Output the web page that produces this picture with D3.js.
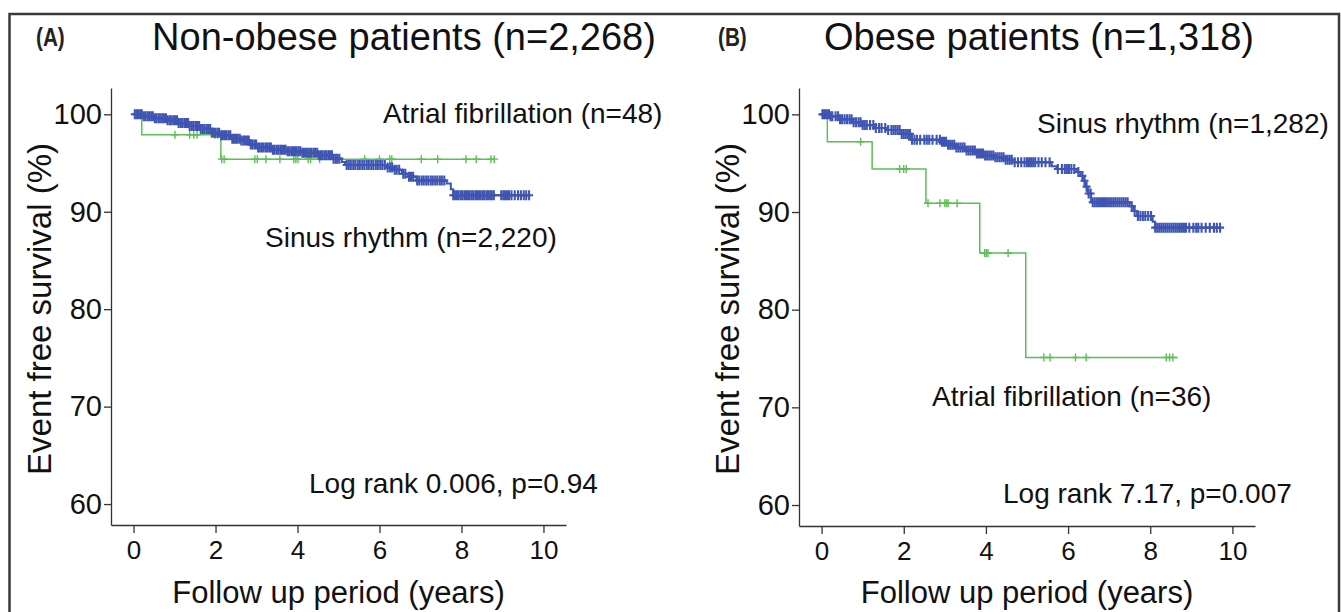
<!DOCTYPE html>
<html>
<head>
<meta charset="utf-8">
<script src="https://cdn.jsdelivr.net/npm/d3@7"></script>
<style>
    html, body { margin: 0; padding: 0; background: #fff; }
    svg { display: block; font-family: "Liberation Sans", Arial, sans-serif; }
</style>
</head>
<body>
<div id="chart"></div>
<script>
// ---- data ----
const xTicks = [0, 2, 4, 6, 8, 10];
const yTicks = [60, 70, 80, 90, 100];

// (A) non-obese, sinus rhythm
const aSinusTime = [0, 0.22, 0.48, 0.8, 1.08, 1.35, 1.62, 1.9, 2.14, 2.38, 2.6, 2.82, 3.0, 3.36, 3.74, 4.1, 4.5, 4.86, 5.08, 5.16, 6.18, 6.34, 6.55, 6.7, 6.9, 7.64, 7.74, 7.8];
const aSinusSurv = [100, 99.8, 99.6, 99.4, 99.1, 98.8, 98.5, 98.1, 97.85, 97.5, 97.3, 96.9, 96.6, 96.35, 96.2, 96.05, 95.8, 95.45, 95.1, 94.8, 94.55, 94.3, 93.9, 93.6, 93.2, 92.9, 92.3, 91.7];
const aSinusEnd = 9.65;
const aSinusCensor = [
    0.03, 0.07, 0.11, 0.16, 0.2, 0.25, 0.29, 0.34, 0.38, 0.43, 0.47, 0.52, 0.56, 0.61, 0.65, 0.7, 0.74, 0.79, 0.83, 0.88, 0.92, 0.97, 1.01, 1.06, 1.1, 1.15, 1.19, 1.24, 1.28, 1.33, 1.37, 1.42, 1.46, 1.51, 1.55, 1.6, 1.64, 1.69, 1.73, 1.78, 1.82, 1.87, 1.91, 1.96, 2.0,
    2.05, 2.09, 2.14, 2.18, 2.23, 2.27, 2.32, 2.36, 2.41, 2.45, 2.5, 2.54, 2.59, 2.63, 2.68, 2.72, 2.77, 2.81, 2.86, 2.9, 2.95, 2.99, 3.04, 3.08, 3.13, 3.17, 3.22, 3.26, 3.31, 3.35, 3.4, 3.44, 3.49, 3.53, 3.58, 3.62, 3.67, 3.71, 3.76, 3.8, 3.85, 3.89, 3.94, 3.98,
    4.03, 4.07, 4.12, 4.16, 4.21, 4.25, 4.3, 4.34, 4.39, 4.43, 4.48, 4.52, 4.57, 4.61, 4.66, 4.7, 4.75, 4.79, 4.84, 4.88, 4.93, 4.97, 5.02, 5.2, 5.25, 5.3, 5.36, 5.41, 5.47, 5.52, 5.58, 5.63, 5.69, 5.74, 5.8, 5.85, 5.91, 5.96, 6.02, 6.07, 6.13, 6.2, 6.26, 6.31,
    6.37, 6.42, 6.48, 6.58, 6.63, 6.72, 6.77, 6.82, 6.92, 6.97, 7.03, 7.08, 7.14, 7.19, 7.25, 7.3, 7.36, 7.41, 7.47, 7.52, 7.58, 7.8, 7.84, 7.89, 7.93, 7.98, 8.02, 8.07, 8.11, 8.16, 8.2, 8.25, 8.29, 8.34, 8.38, 8.43, 8.47, 8.52, 8.56, 8.61, 8.65, 8.7, 8.74, 8.79,
    8.97, 9.02, 9.06, 9.11, 9.16, 9.22, 9.3, 9.38, 9.45, 9.52, 9.58, 9.65
];

// (A) non-obese, atrial fibrillation
const aAfTime = [0, 0.2, 2.13];
const aAfSurv = [100, 97.9, 95.4];
const aAfEnd = 8.8;
const aAfCensor = [1.01, 1.37, 1.47, 1.55, 1.99, 2.05, 2.15, 2.21, 2.96, 3.02, 3.23, 3.57, 3.91, 3.96, 4.01, 4.26, 4.32, 4.54, 5.64, 6.0, 6.25, 6.3, 7.02, 7.42, 8.11, 8.36, 8.72, 8.8];

// (B) obese, sinus rhythm
const bSinusTime = [0, 0.2, 0.45, 0.75, 1.0, 1.3, 1.6, 1.95, 2.2, 2.9, 3.05, 3.25, 3.5, 3.75, 3.95, 4.2, 4.45, 4.65, 5.6, 5.72, 6.2, 6.3, 6.36, 6.42, 6.48, 6.56, 7.5, 7.6, 7.68, 8.06, 8.12];
const bSinusSurv = [100, 99.8, 99.5, 99.2, 98.9, 98.6, 98.4, 98.0, 97.4, 97.2, 96.9, 96.6, 96.3, 96.0, 95.8, 95.6, 95.35, 95.1, 94.7, 94.4, 94.1, 93.7, 93.2, 92.6, 91.9, 91.0, 90.6, 90.1, 89.6, 89.0, 88.4];
const bSinusEnd = 9.7;
const bSinusCensor = [
    0.02, 0.06, 0.1, 0.14, 0.18, 0.22, 0.26, 0.34, 0.4, 0.45, 0.5, 0.56, 0.62, 0.68, 0.73, 0.78, 0.84, 0.9, 0.95, 1.0, 1.05, 1.1,
    1.18, 1.26, 1.32, 1.4, 1.46, 1.55, 1.62, 1.7, 1.75, 1.8, 1.85, 1.9, 1.95, 2.0, 2.05, 2.1, 2.15, 2.2, 2.26, 2.32, 2.4, 2.5, 2.56, 2.62, 2.7, 2.8,
    2.88, 2.93, 2.98, 3.03, 3.08, 3.13, 3.18, 3.23, 3.28, 3.33, 3.38, 3.43, 3.48, 3.53, 3.58, 3.63, 3.68, 3.73, 3.78, 3.83, 3.88, 3.93, 3.98, 4.03, 4.08, 4.13, 4.18, 4.23, 4.28, 4.33, 4.38, 4.43, 4.48, 4.53, 4.58, 4.63,
    4.7, 4.78, 4.86, 4.94, 5.0, 5.05, 5.1, 5.15, 5.2, 5.28, 5.36, 5.45, 5.55, 5.75, 5.85, 5.92, 5.97, 6.02, 6.08, 6.15, 6.25, 6.35, 6.4, 6.45, 6.5, 6.55,
    6.6, 6.65, 6.7, 6.75, 6.8, 6.85, 6.9, 6.95, 7.0, 7.05, 7.1, 7.15, 7.2, 7.25, 7.3, 7.35, 7.4, 7.45, 7.55, 7.62, 7.7, 7.76, 7.82, 7.88, 7.95, 8.02,
    8.12, 8.17, 8.22, 8.27, 8.32, 8.37, 8.42, 8.47, 8.52, 8.57, 8.62, 8.67, 8.72, 8.77, 8.82, 8.87, 8.95, 9.05, 9.12, 9.17, 9.25, 9.35, 9.45, 9.55, 9.62, 9.7
];

// (B) obese, atrial fibrillation
const bAfTime = [0, 0.14, 1.23, 2.54, 3.85, 4.97];
const bAfSurv = [100, 97.2, 94.4, 90.9, 85.8, 75.1];
const bAfEnd = 8.67;
const bAfCensor = [0.95, 1.9, 2.0, 2.06, 2.59, 2.88, 3.0, 3.04, 3.08, 3.3, 3.97, 4.01, 4.05, 4.54, 5.41, 5.56, 6.18, 6.44, 8.39, 8.47, 8.55];

const panelLetters = ['(A)', '(B)'];
const panelTitles = ['Non-obese patients (n=2,268)', 'Obese patients (n=1,318)'];
const sinusLabels = ['Sinus rhythm (n=2,220)', 'Sinus rhythm (n=1,282)'];
const afLabels = ['Atrial fibrillation (n=48)', 'Atrial fibrillation (n=36)'];
const logRankLabels = ['Log rank 0.006, p=0.94', 'Log rank 7.17, p=0.007'];
const xTitle = 'Follow up period (years)';
const yTitle = 'Event free survival (%)';

const blue = '#3f55b3';
const green = '#5cbf55';
const axisColor = '#333';

const W = 1341, H = 612;

const svg = d3.select('#chart')
    .append('svg')
    .attr('width', W)
    .attr('height', H);

// outer frame (bottom edge is cut off in the original)
svg.append('rect')
    .attr('x', 9.5)
    .attr('y', 14)
    .attr('width', 1329.5)
    .attr('height', 640)
    .attr('fill', 'none')
    .attr('stroke', '#3a3a3a')
    .attr('stroke-width', 2.5);

// survival value at time t from step arrays
function survAt(times, surv, t) {
    let s = surv[0];
    for (let i = 0; i < times.length; i++) {
        if (times[i] <= t) s = surv[i];
    }
    return s;
}

function drawPanel(props) {
    const x = d3.scaleLinear().domain([-0.55, 10.55]).range([props.left, props.right]);
    const y = d3.scaleLinear().domain([57.85, 102.7]).range([props.bottom, 88]);
    const g = svg.append('g');

    // panel letter + title
    g.append('text')
        .attr('transform', 'translate(' + props.letterX + ',46) scale(0.9,1.1)')
        .attr('font-size', 23)
        .attr('font-weight', 'bold')
        .attr('fill', '#222')
        .text(props.letter);
    g.append('text')
        .attr('x', props.titleX)
        .attr('y', 50)
        .attr('text-anchor', 'middle')
        .attr('font-size', 38)
        .attr('fill', '#111')
        .text(props.title);

    // axes
    const yAxis = g.append('g')
        .attr('transform', 'translate(' + props.left + ',0)')
        .call(d3.axisLeft(y).tickValues(yTicks).tickSize(7).tickSizeOuter(0).tickPadding(2));
    yAxis.selectAll('text').attr('font-size', 29).attr('fill', '#111').attr('font-family', null);

    const xAxis = g.append('g')
        .attr('transform', 'translate(0,' + props.bottom + ')')
        .call(d3.axisBottom(x).tickValues(xTicks).tickSize(8).tickSizeOuter(0).tickPadding(8));
    xAxis.selectAll('text').attr('font-size', 26).attr('fill', '#111').attr('font-family', null);

    g.selectAll('.domain, .tick line')
        .attr('stroke', axisColor)
        .attr('stroke-width', 1.3);

    // axis titles
    g.append('text')
        .attr('x', (x(0) + x(10)) / 2)
        .attr('y', 603)
        .attr('text-anchor', 'middle')
        .attr('font-size', 31)
        .attr('fill', '#111')
        .text(xTitle);
    g.append('text')
        .attr('transform', 'translate(' + (props.left - 60) + ',309) rotate(-90)')
        .attr('text-anchor', 'middle')
        .attr('font-size', 33)
        .attr('fill', '#111')
        .text(yTitle);

    // curves
    const line = d3.line()
        .x(d => x(d[0]))
        .y(d => y(d[1]))
        .curve(d3.curveStepAfter);

    props.curves.forEach(c => {
        const pts = c.time.map((t, i) => [t, c.surv[i]]);
        pts.push([c.end, c.surv[c.surv.length - 1]]);
        g.append('path')
            .attr('d', line(pts))
            .attr('fill', 'none')
            .attr('stroke', c.color)
            .attr('stroke-width', c.lineWidth);

        // censor marks (+)
        g.append('g')
            .selectAll('path')
            .data(c.censor)
            .enter()
            .append('path')
            .attr('d', t => {
                const cx = x(t), cy = y(survAt(c.time, c.surv, t));
                return 'M' + (cx - 4) + ',' + cy + 'H' + (cx + 4) +
                    'M' + cx + ',' + (cy - c.markH) + 'V' + (cy + c.markH);
            })
            .attr('stroke', c.color)
            .attr('stroke-width', c.markW)
            .attr('fill', 'none');
    });

    // annotations
    props.notes.forEach(n => {
        g.append('text')
            .attr('x', n.x)
            .attr('y', n.y)
            .attr('font-size', 28)
            .attr('fill', '#111')
            .text(n.text);
    });
}

drawPanel({
    left: 111, right: 566, bottom: 525,
    letterX: 36, titleX: 404,
    letter: panelLetters[0], title: panelTitles[0],
    curves: [
        { time: aAfTime, surv: aAfSurv, end: aAfEnd, censor: aAfCensor, color: green, lineWidth: 1.5, markW: 1.4, markH: 4 },
        { time: aSinusTime, surv: aSinusSurv, end: aSinusEnd, censor: aSinusCensor, color: blue, lineWidth: 2, markW: 2.1, markH: 5 }
    ],
    notes: [
        { x: 383, y: 123, text: afLabels[0] },
        { x: 265, y: 247, text: sinusLabels[0] },
        { x: 309, y: 493, text: logRankLabels[0] }
    ]
});

drawPanel({
    left: 799, right: 1255, bottom: 526,
    letterX: 718, titleX: 1039,
    letter: panelLetters[1], title: panelTitles[1],
    curves: [
        { time: bAfTime, surv: bAfSurv, end: bAfEnd, censor: bAfCensor, color: green, lineWidth: 1.5, markW: 1.4, markH: 4 },
        { time: bSinusTime, surv: bSinusSurv, end: bSinusEnd, censor: bSinusCensor, color: blue, lineWidth: 2, markW: 2.1, markH: 5 }
    ],
    notes: [
        { x: 1037, y: 133, text: sinusLabels[1] },
        { x: 932, y: 406, text: afLabels[1] },
        { x: 1003, y: 503, text: logRankLabels[1] }
    ]
});
</script>
</body>
</html>
